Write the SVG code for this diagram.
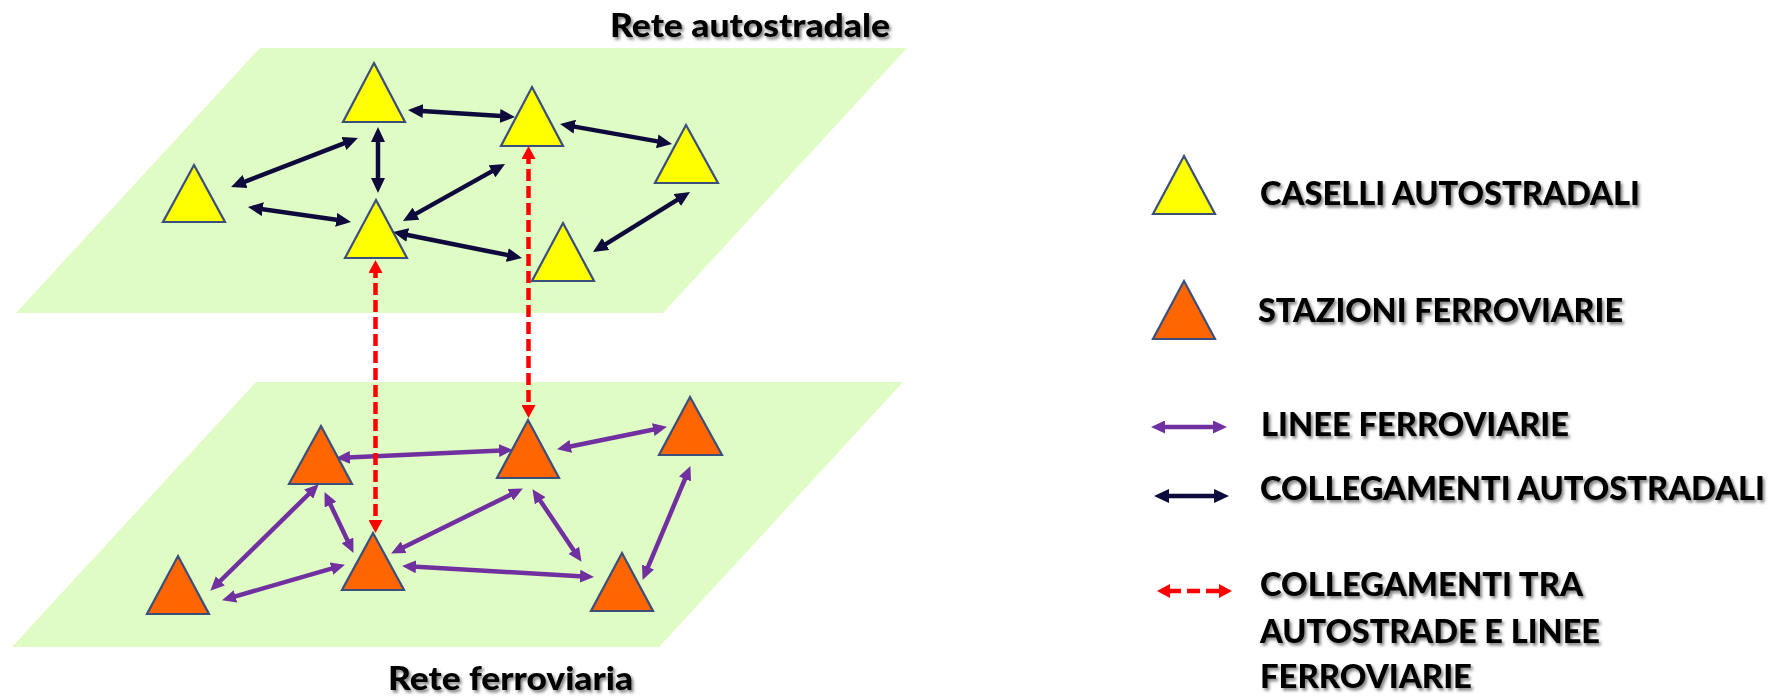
<svg xmlns="http://www.w3.org/2000/svg" width="1774" height="697" viewBox="0 0 1774 697">
<style>
.plane{fill:#DFFCC4;stroke:none}
.yel{fill:#FFFF00;stroke:#3B4F7D;stroke-width:2.2;stroke-linejoin:miter}
.ora{fill:#FF6600;stroke:#3B4F7D;stroke-width:2.2;stroke-linejoin:miter}
.nav{stroke:#0E0A3C;stroke-width:4.5;fill:none;marker-start:url(#mNav);marker-end:url(#mNav)}
.pur{stroke:#7030A0;stroke-width:4.5;fill:none;marker-start:url(#mPur);marker-end:url(#mPur)}
.red{stroke:#FF0000;stroke-width:4.5;fill:none;stroke-dasharray:12,5;marker-start:url(#mRed);marker-end:url(#mRed)}
.lbl{font-family:Lato,"Liberation Sans",sans-serif;font-weight:900;fill:#000;filter:url(#sh)}
.t1{font-size:32px}
.t2{font-size:33px}
</style>
<defs>
<filter id="sh" x="-5%" y="-30%" width="110%" height="160%">
<feDropShadow dx="2" dy="2.5" stdDeviation="1.5" flood-color="#000" flood-opacity="0.5"/>
</filter>
<marker id="mNav" markerUnits="userSpaceOnUse" markerWidth="15" markerHeight="14" viewBox="0 0 15 14" refX="9" refY="7" orient="auto-start-reverse"><path d="M0,0 L15,7 L0,14 z" fill="#0E0A3C"/></marker>
<marker id="mPur" markerUnits="userSpaceOnUse" markerWidth="14" markerHeight="13" viewBox="0 0 14 13" refX="8" refY="6.5" orient="auto-start-reverse"><path d="M0,0 L14,6.5 L0,13 z" fill="#7030A0"/></marker>
<marker id="mRed" markerUnits="userSpaceOnUse" markerWidth="13" markerHeight="14" viewBox="0 0 13 14" refX="7" refY="7" orient="auto-start-reverse"><path d="M0,0 L13,7 L0,14 z" fill="#FF0000"/></marker>
</defs>

<g id="planes">
<polygon class="plane" points="260,48 907,48 663,313 16,313"/>
<polygon class="plane" points="256,382 903,382 659,647 12,647"/>
</g>

<g id="titles">
<text class="lbl t1" x="610" y="37" textLength="280" lengthAdjust="spacingAndGlyphs">Rete autostradale</text>
<text class="lbl t1" x="388" y="690" textLength="245" lengthAdjust="spacingAndGlyphs">Rete ferroviaria</text>
</g>

<g id="connectors">
<line class="nav" x1="236.7" y1="184.8" x2="352.3" y2="140.2"/>
<line class="nav" x1="378" y1="133" x2="378" y2="187"/>
<line class="nav" x1="253.9" y1="207.9" x2="345.1" y2="221.1"/>
<line class="nav" x1="414" y1="110.4" x2="509" y2="116.6"/>
<line class="nav" x1="408.2" y1="218.1" x2="499.8" y2="166.9"/>
<line class="nav" x1="398.9" y1="233.2" x2="516.1" y2="256.8"/>
<line class="nav" x1="565.9" y1="125.1" x2="666.1" y2="142.9"/>
<line class="nav" x1="598.1" y1="248.8" x2="684.9" y2="195.2"/>

<line class="pur" x1="342" y1="457.8" x2="507" y2="450.2"/>
<line class="pur" x1="314.4" y1="488.5" x2="214.6" y2="586.5"/>
<line class="pur" x1="327.1" y1="497.5" x2="350.9" y2="547.5"/>
<line class="pur" x1="227.8" y1="598.6" x2="339.2" y2="566.4"/>
<line class="pur" x1="396.5" y1="550.8" x2="517.5" y2="491.2"/>
<line class="pur" x1="408" y1="566.3" x2="588" y2="576.7"/>
<line class="pur" x1="562.9" y1="448" x2="661.1" y2="428"/>
<line class="pur" x1="535.8" y1="494.1" x2="578.2" y2="556.9"/>
<line class="pur" x1="644.9" y1="574.4" x2="688.1" y2="471.6"/>
</g>

<g id="top-nodes">
<g id="casello1"><polygon class="yel" points="374,63 405,122 343,122"/></g>
<g id="casello2"><polygon class="yel" points="194,165 225,222 163,222"/></g>
<g id="casello3"><polygon class="yel" points="376,200 407,258 345,258"/></g>
<g id="casello4"><polygon class="yel" points="532,87 563,146 501,146"/></g>
<g id="casello5"><polygon class="yel" points="686,125 718,183 655,183"/></g>
<g id="casello6"><polygon class="yel" points="563,223 594,281 532,281"/></g>
</g>

<g id="bottom-nodes">
<g id="stazione1"><polygon class="ora" points="321,426 352,484 289,484"/></g>
<g id="stazione2"><polygon class="ora" points="178,556 209,614 147,614"/></g>
<g id="stazione3"><polygon class="ora" points="373,533 404,590 342,590"/></g>
<g id="stazione4"><polygon class="ora" points="528,420 559,478 497,478"/></g>
<g id="stazione5"><polygon class="ora" points="690,397 722,455 659,455"/></g>
<g id="stazione6"><polygon class="ora" points="622,553 653,611 591,611"/></g>
</g>

<g id="inter-connectors">
<line class="red" x1="375.5" y1="266" x2="375.5" y2="527"/>
<line class="red" x1="528.5" y1="152" x2="528.5" y2="412"/>
</g>

<g id="legend">
<g id="leg-caselli">
<polygon class="yel" points="1184,156 1215,214 1153,214"/>
<text class="lbl t2" x="1260" y="205" textLength="380" lengthAdjust="spacingAndGlyphs">CASELLI AUTOSTRADALI</text>
</g>
<g id="leg-stazioni">
<polygon class="ora" points="1184,281 1215,339 1153,339"/>
<text class="lbl t2" x="1258" y="322" textLength="365" lengthAdjust="spacingAndGlyphs">STAZIONI FERROVIARIE</text>
</g>
<g id="leg-linee">
<line class="pur" x1="1157" y1="427" x2="1221" y2="427"/>
<text class="lbl t2" x="1261" y="436" textLength="308" lengthAdjust="spacingAndGlyphs">LINEE FERROVIARIE</text>
</g>
<g id="leg-autostrade">
<line class="nav" x1="1160" y1="496" x2="1223" y2="496"/>
<text class="lbl t2" x="1260" y="500" textLength="505" lengthAdjust="spacingAndGlyphs">COLLEGAMENTI AUTOSTRADALI</text>
</g>
<g id="leg-tra">
<line class="red" x1="1163" y1="591" x2="1226" y2="591" style="stroke-dasharray:13,6;stroke-dashoffset:-5"/>
<text class="lbl t2" x="1260" y="596" textLength="323" lengthAdjust="spacingAndGlyphs">COLLEGAMENTI TRA</text>
<text class="lbl t2" x="1260" y="643" textLength="340" lengthAdjust="spacingAndGlyphs">AUTOSTRADE E LINEE</text>
<text class="lbl t2" x="1260" y="688" textLength="212" lengthAdjust="spacingAndGlyphs">FERROVIARIE</text>
</g>
</g>
</svg>
